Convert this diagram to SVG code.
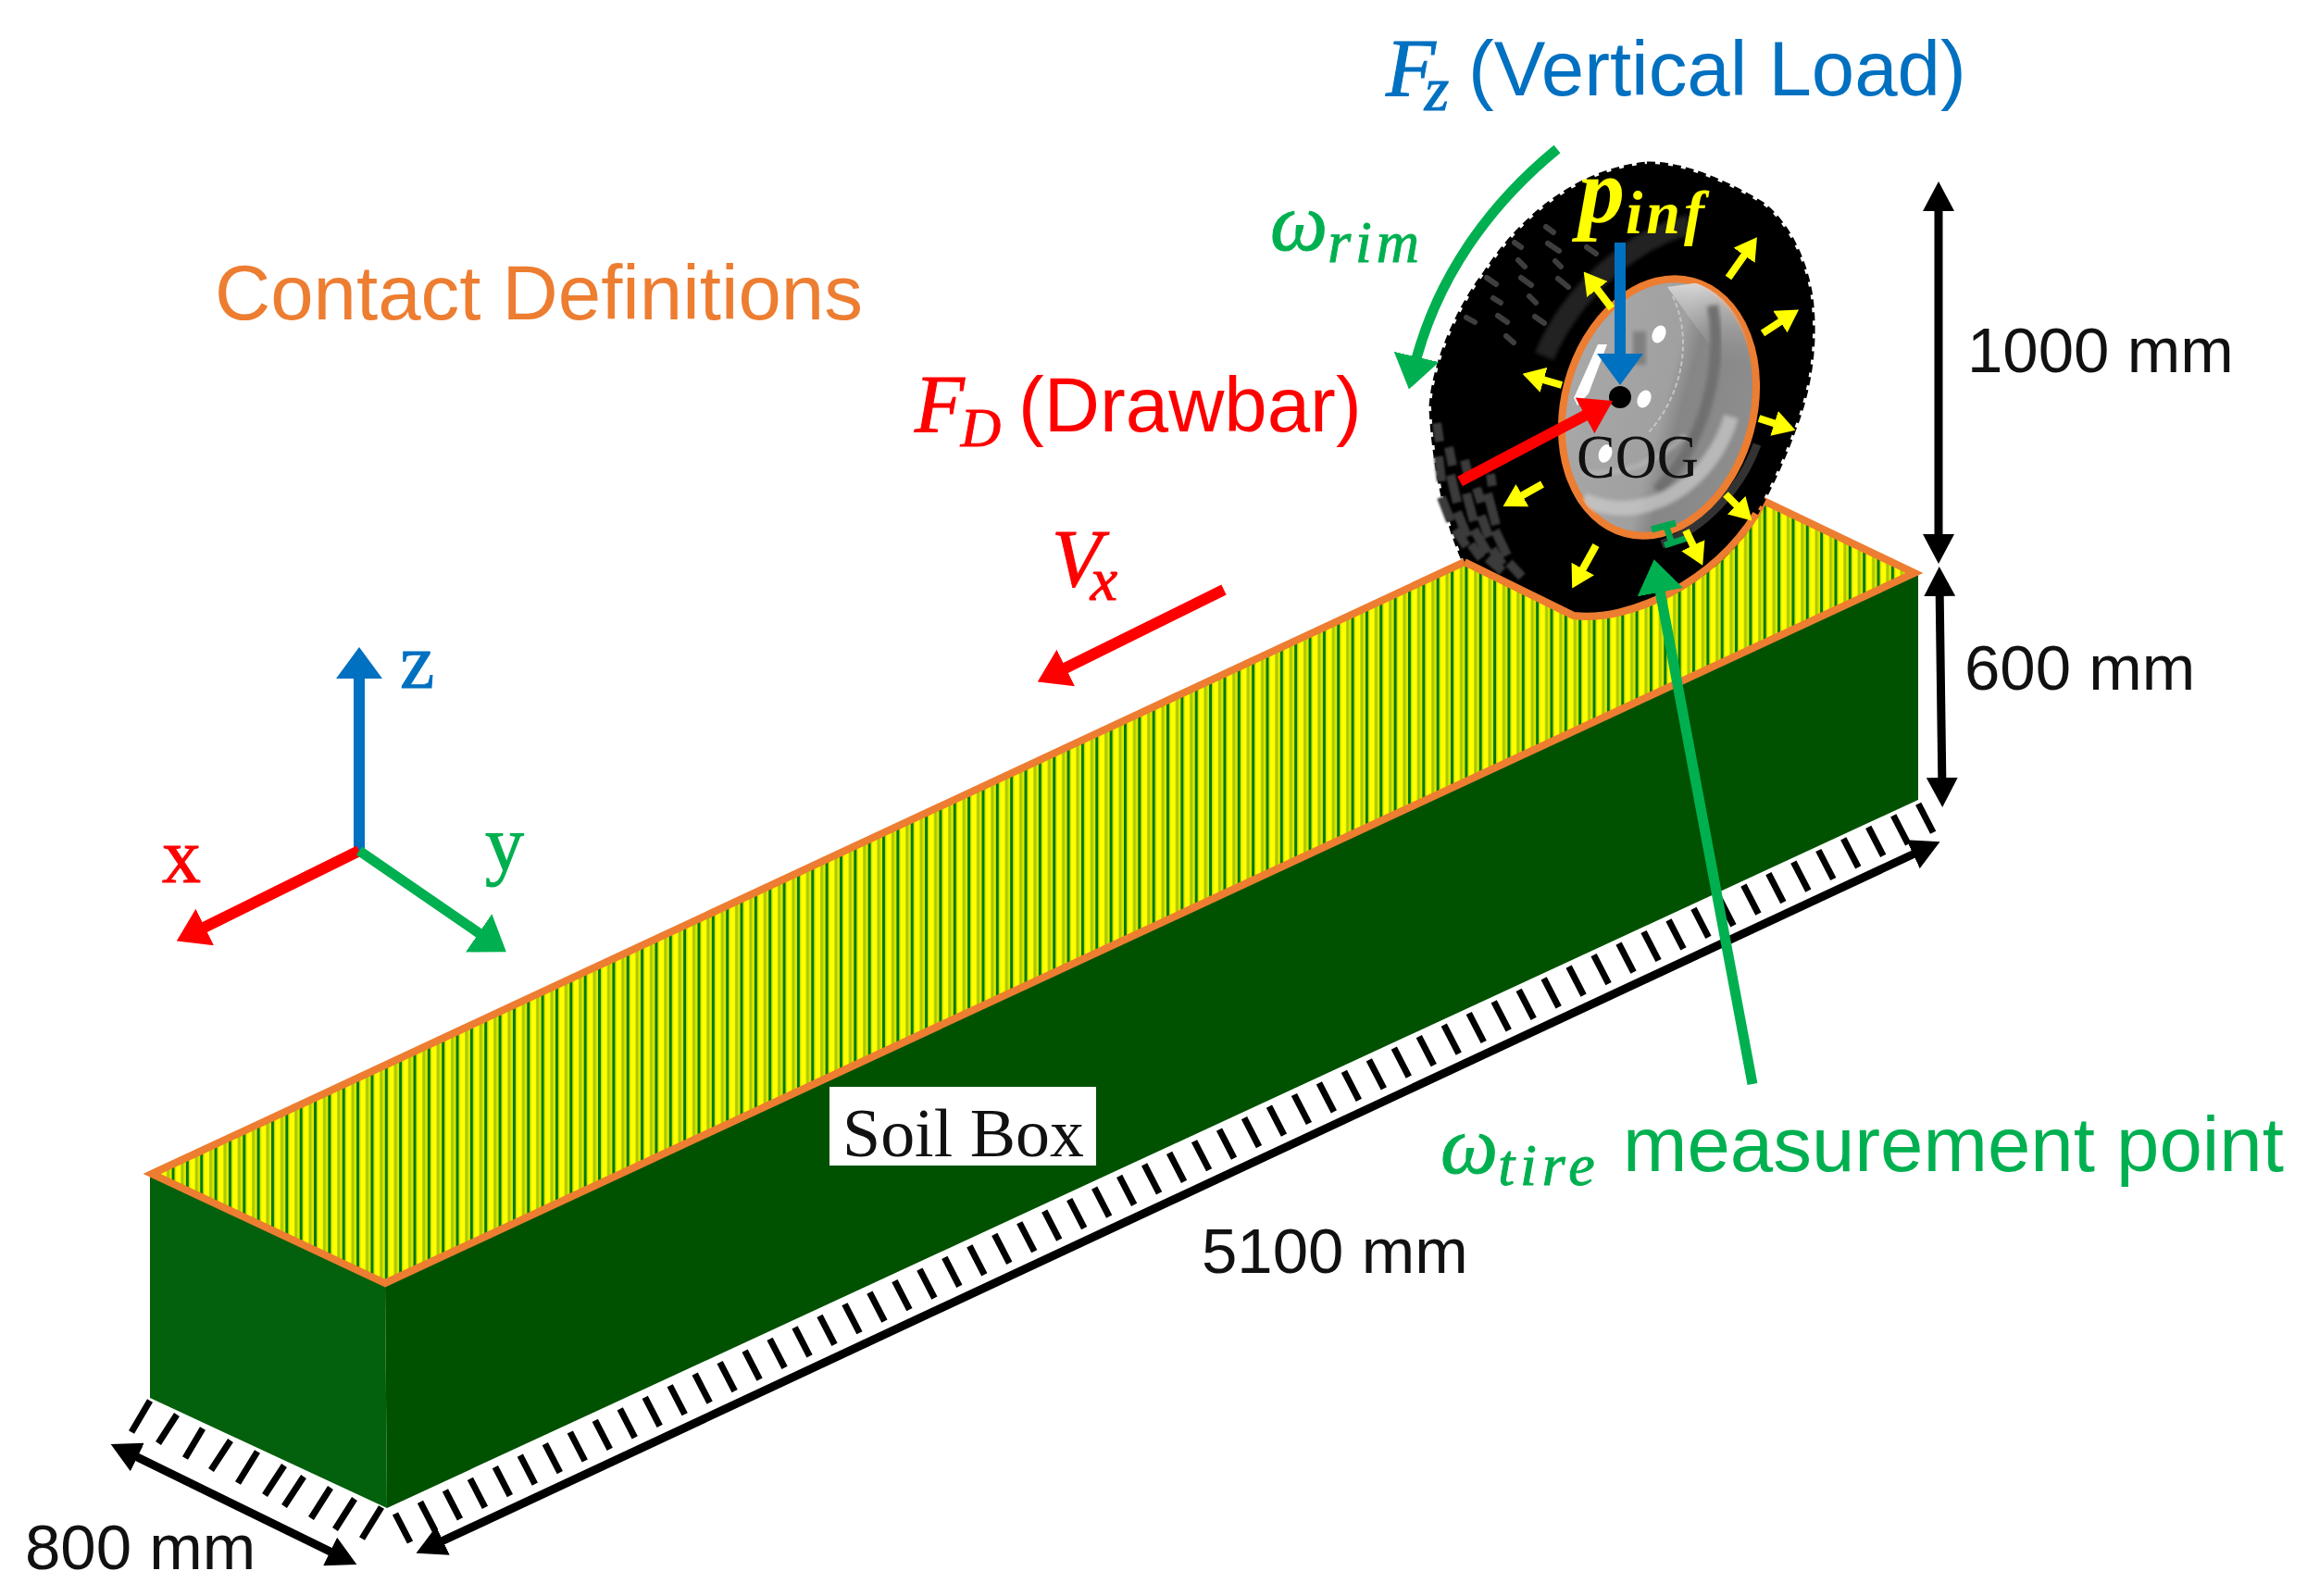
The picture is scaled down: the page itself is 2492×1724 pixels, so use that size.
<svg xmlns="http://www.w3.org/2000/svg" width="2492" height="1724" viewBox="0 0 2492 1724">
<style>
text{font-family:"Liberation Sans",Arial,sans-serif}
.m{font-family:"Liberation Serif","Times New Roman",serif;font-style:italic;stroke-width:1}
.s{font-family:"Liberation Serif","Times New Roman",serif}
.big{font-size:83.4px}
.dim{font-size:69px;fill:#111}
.ln{fill:none;stroke-linecap:butt}
.blk{stroke:#000;stroke-width:9;marker-end:url(#hk);marker-start:url(#hks)}
.yel{stroke:#ff0;stroke-width:8;marker-end:url(#hy)}
.red{stroke:#f00;stroke-width:12;marker-end:url(#hr)}
.grn{stroke:#00b050;stroke-width:11;marker-end:url(#hg)}
.blu{stroke:#0070c0;stroke-width:12;marker-end:url(#hb)}
.tread{stroke:#3a3a3a;stroke-width:10;fill:none}
.dot{stroke:#3e3e3e;stroke-width:6;stroke-linecap:round;fill:none}
</style>
<defs>
<marker id="hk" markerUnits="userSpaceOnUse" viewBox="0 0 10 10" refX="5" refY="5" markerWidth="32" markerHeight="34" orient="auto" preserveAspectRatio="none"><path d="M0 0L10 5L0 10z" fill="#000"/></marker>
<marker id="hks" markerUnits="userSpaceOnUse" viewBox="0 0 10 10" refX="5" refY="5" markerWidth="32" markerHeight="34" orient="auto-start-reverse" preserveAspectRatio="none"><path d="M0 0L10 5L0 10z" fill="#000"/></marker>
<marker id="hy" markerUnits="userSpaceOnUse" viewBox="0 0 10 10" refX="5" refY="5" markerWidth="24" markerHeight="28" orient="auto" preserveAspectRatio="none"><path d="M0 0L10 5L0 10z" fill="#ff0"/></marker>
<marker id="hr" markerUnits="userSpaceOnUse" viewBox="0 0 10 10" refX="5" refY="5" markerWidth="34" markerHeight="44" orient="auto" preserveAspectRatio="none"><path d="M0 0L10 5L0 10z" fill="#f00"/></marker>
<marker id="hg" markerUnits="userSpaceOnUse" viewBox="0 0 10 10" refX="5" refY="5" markerWidth="36" markerHeight="50" orient="auto" preserveAspectRatio="none"><path d="M0 0L10 5L0 10z" fill="#00b050"/></marker>
<marker id="hb" markerUnits="userSpaceOnUse" viewBox="0 0 10 10" refX="5" refY="5" markerWidth="34" markerHeight="50" orient="auto" preserveAspectRatio="none"><path d="M0 0L10 5L0 10z" fill="#0070c0"/></marker>
<pattern id="stripes" patternUnits="userSpaceOnUse" x="907" y="0" width="15.35" height="40">
<rect width="15.35" height="40" fill="#dfe800"/>
<rect x="0" width="3" height="40" fill="#007a00"/>
<rect x="4.6" width="5" height="40" fill="#ffff00"/>
<rect x="10" width="2.8" height="40" fill="#a8c800"/>
</pattern>
<linearGradient id="rimg" x1="0" y1="0" x2="1" y2="0">
<stop offset="0" stop-color="#a8a8a8"/><stop offset=".52" stop-color="#a0a0a0"/><stop offset=".62" stop-color="#868686"/><stop offset="1" stop-color="#8e8e8e"/>
</linearGradient>
<linearGradient id="hl" x1="0" y1="0" x2="0" y2="1">
<stop offset="0" stop-color="#e0e0e0"/><stop offset="1" stop-color="#8a8a8a" stop-opacity="0"/>
</linearGradient>
<filter id="soft" x="-10%" y="-10%" width="120%" height="120%"><feGaussianBlur stdDeviation="2"/></filter>
<filter id="soft1" x="-10%" y="-10%" width="120%" height="120%"><feGaussianBlur stdDeviation="0.8"/></filter>
<clipPath id="rimclip"><ellipse cx="1792" cy="440" rx="100" ry="140" transform="rotate(15 1792 440)"/></clipPath>
</defs>
<rect width="2492" height="1724" fill="#fff"/>

<g id="soil-box">
<polygon points="162,1268 416,1386 418,1629 162,1510" fill="#03600c"/>
<polygon points="416,1386 2072,620 2072,864 418,1629" fill="#005200"/>
<path d="M164,1268L1582,607L1700,665C1760,672 1850,630 1897,555L1905,541L2068,619L416,1386Z" fill="url(#stripes)" stroke="#ed7d31" stroke-width="8" stroke-linejoin="miter"/>
</g>

<g id="tire">
<path id="tire-body" d="M1779,177C1820,176 1870,200 1903,220C1930,240 1950,280 1956,321C1962,370 1955,420 1938,463C1925,500 1910,530 1892,564C1850,630 1760,672 1700,665L1582,607C1560,560 1548,490 1546,440C1548,400 1570,340 1605,294C1640,240 1700,185 1779,177Z" fill="#000" stroke="#000" stroke-width="5" stroke-dasharray="9 5"/>
<path d="M1825,243C1770,255 1700,310 1668,385" fill="none" stroke="#222" stroke-width="22" filter="url(#soft)"/>
<path d="M1898,480C1880,530 1840,570 1795,588" fill="none" stroke="#333" stroke-width="9"/>
<path class="dot" d="M1670,245l8,6M1672,263l12,8M1714,267l10,7M1636,262l7,5M1640,281l7,7M1680,282l6,6M1643,300l11,8M1683,301l11,9M1606,300l10,7M1652,320l7,7M1613,322l8,5M1618,341l10,7M1658,342l10,7M1584,343l9,5M1627,363l8,7"/>
<path class="tread" filter="url(#soft1)" d="M1554,493l3,27M1567,513l7,30M1584,533l8,30M1607,533l9,34M1595,527l5,16M1557,537l10,26M1574,553l11,27M1592,572l15,25M1600,557l8,23M1615,573l13,27M1572,572l12,18M1612,593l11,17M1630,608l14,15M1589,588l11,15M1607,603l16,14M1552,457l3,20M1565,483l4,20M1582,497l5,20M1610,512l2,13"/>
<g id="rim">
<ellipse cx="1792" cy="440" rx="102" ry="141" transform="rotate(15 1792 440)" fill="url(#rimg)" stroke="#ed7d31" stroke-width="8"/>
<g clip-path="url(#rimclip)">
<path d="M1801,310L1872,300L1895,400L1860,385L1845,370L1830,350Z" fill="url(#hl)"/>
<path d="M1807,320C1830,370 1815,430 1780,468" fill="none" stroke="#c4c4c4" stroke-width="2" stroke-dasharray="5 3"/>
<path d="M1850,330C1862,400 1840,480 1790,530" fill="none" stroke="#707070" stroke-width="12" filter="url(#soft)"/>
<path d="M1870,450C1850,520 1780,570 1710,540" fill="none" stroke="#ccc" stroke-width="16" opacity=".7" filter="url(#soft)"/>
<path d="M1710,510C1750,515 1790,500 1820,470" fill="none" stroke="#bbb" stroke-width="5" opacity=".7" filter="url(#soft)"/>
<rect x="1764" y="358" width="14" height="36" fill="#808080" filter="url(#soft)"/>
</g>
<path d="M1736,372L1726,372L1700,430L1704,438L1716,425Z" fill="#fff"/>
<ellipse cx="1792" cy="361" rx="7" ry="10" transform="rotate(25 1792 361)" fill="#fff"/>
<ellipse cx="1776" cy="431" rx="7" ry="10" transform="rotate(25 1776 431)" fill="#fff"/>
<ellipse cx="1734" cy="490" rx="7" ry="10" transform="rotate(20 1734 490)" fill="#fff"/>
</g>
<g id="measurement-mark" fill="none" stroke="#00a550" stroke-width="7">
<path d="M1784,572l26,-7M1800,569l5,15M1798,589l28,-9"/>
</g>
<circle id="cog-dot" cx="1750" cy="429" r="12" fill="#000"/>
<path id="soil-cut-edge" d="M1582,607L1700,665C1760,672 1850,630 1897,555" fill="none" stroke="#ed7d31" stroke-width="8"/>
</g>

<g id="connectors">
<g id="dimension-hatches" fill="none" stroke="#000" stroke-width="7">
<path id="hatch-800" d="M162,1513L142,1547M191,1528L171,1559M219,1543L200,1575M249,1556L228,1588M278,1568L257,1602M307,1583L286,1615M328,1595L307,1627M357,1607L336,1640M383,1619L362,1652M412,1628L391,1662"/>
<path id="hatch-5100" d="M427,1635
l16,31m10.97,-43.57l16,31m10.97,-43.57l16,31m10.97,-43.57l16,31m10.97,-43.57l16,31m10.97,-43.57l16,31m10.97,-43.57l16,31m10.97,-43.57l16,31m10.97,-43.57l16,31m10.97,-43.57l16,31m10.97,-43.57
l16,31m10.97,-43.57l16,31m10.97,-43.57l16,31m10.97,-43.57l16,31m10.97,-43.57l16,31m10.97,-43.57l16,31m10.97,-43.57l16,31m10.97,-43.57l16,31m10.97,-43.57l16,31m10.97,-43.57l16,31m10.97,-43.57
l16,31m10.97,-43.57l16,31m10.97,-43.57l16,31m10.97,-43.57l16,31m10.97,-43.57l16,31m10.97,-43.57l16,31m10.97,-43.57l16,31m10.97,-43.57l16,31m10.97,-43.57l16,31m10.97,-43.57l16,31m10.97,-43.57
l16,31m10.97,-43.57l16,31m10.97,-43.57l16,31m10.97,-43.57l16,31m10.97,-43.57l16,31m10.97,-43.57l16,31m10.97,-43.57l16,31m10.97,-43.57l16,31m10.97,-43.57l16,31m10.97,-43.57l16,31m10.97,-43.57
l16,31m10.97,-43.57l16,31m10.97,-43.57l16,31m10.97,-43.57l16,31m10.97,-43.57l16,31m10.97,-43.57l16,31m10.97,-43.57l16,31m10.97,-43.57l16,31m10.97,-43.57l16,31m10.97,-43.57l16,31m10.97,-43.57
l16,31m10.97,-43.57l16,31m10.97,-43.57l16,31m10.97,-43.57l16,31m10.97,-43.57l16,31m10.97,-43.57l16,31m10.97,-43.57l16,31m10.97,-43.57l16,31m10.97,-43.57l16,31m10.97,-43.57l16,31m10.97,-43.57
l16,31m10.97,-43.57l16,31"/>
</g>
<line class="ln blk" x1="2094" y1="212" x2="2094" y2="593"/>
<line class="ln blk" x1="2095" y1="628" x2="2098" y2="856"/>
<line class="ln blk" x1="464" y1="1671" x2="2081" y2="916"/>
<line class="ln blk" x1="134" y1="1567" x2="371" y2="1683"/>
<line class="ln yel" x1="1867" y1="300" x2="1891" y2="266"/>
<line class="ln yel" x1="1904" y1="360" x2="1933" y2="341"/>
<line class="ln yel" x1="1900" y1="452" x2="1928" y2="461"/>
<line class="ln yel" x1="1864" y1="534" x2="1884" y2="554"/>
<line class="ln yel" x1="1821" y1="573" x2="1834" y2="600"/>
<line class="ln yel" x1="1724" y1="589" x2="1704" y2="625"/>
<line class="ln yel" x1="1666" y1="523" x2="1634" y2="541"/>
<line class="ln yel" x1="1687" y1="416" x2="1656" y2="407"/>
<line class="ln yel" x1="1741" y1="333" x2="1718" y2="303"/>
<line class="ln blu" x1="1750" y1="262" x2="1750" y2="399"/>
<line class="ln red" x1="1577" y1="520" x2="1727" y2="441"/>
<line class="ln red" x1="1322" y1="637" x2="1136" y2="729"/>
<line class="ln grn" x1="1893" y1="1171" x2="1790" y2="622"/>
<path class="ln grn" d="M1682,161C1610,220 1550,300 1526,403"/>
<line class="ln blu" x1="388" y1="919" x2="388" y2="716"/>
<line class="ln red" x1="388" y1="919" x2="206" y2="1009"/>
<line class="ln grn" x1="388" y1="919" x2="532" y2="1018"/>
</g>

<g id="labels">
<text class="big" x="232" y="345" fill="#ed7d31">Contact Definitions</text>
<text class="m" x="1497" y="103" font-size="88" fill="#0070c0" stroke="#0070c0">F<tspan dx="-12" dy="16" font-size="68">z</tspan></text>
<text class="big" x="1586" y="103" fill="#0070c0">(Vertical Load)</text>
<text class="m" x="1372" y="270" font-size="88" fill="#00b050" stroke="#00b050">ω<tspan dy="13" font-size="64" letter-spacing="5">rim</tspan></text>
<text class="m" x="988" y="466" font-size="88" fill="#f00" stroke="#f00">F<tspan dx="-4" dy="16" font-size="60">D</tspan></text>
<text class="big" x="1100" y="466" fill="#f00">(Drawbar)</text>
<text class="m" x="1136" y="633" font-size="88" fill="#f00" stroke="#f00">V<tspan dx="-12" dy="15" font-size="66">x</tspan></text>
<text class="m" x="1705" y="240" font-size="100" font-weight="bold" fill="#ff0">p<tspan dx="1" dy="12" font-size="66" letter-spacing="4">inf</tspan></text>
<text class="s" x="1703" y="516" font-size="68" fill="#111" textLength="132" lengthAdjust="spacingAndGlyphs">COG</text>
<text class="dim" x="2125" y="402">1000 mm</text>
<text class="dim" x="2122" y="745">600 mm</text>
<text class="dim" x="1298" y="1375">5100 mm</text>
<text class="dim" x="27" y="1695">800 mm</text>
<text class="m" x="1556" y="1267" font-size="88" fill="#00b050" stroke="#00b050">ω<tspan dy="13" font-size="64" letter-spacing="6">tire</tspan></text>
<text class="big" x="1753" y="1265" fill="#00b050">measurement point</text>
<text class="s" x="432" y="743" font-size="84" fill="#0070c0" stroke="#0070c0">z</text>
<text class="s" x="175" y="953" font-size="84" fill="#f00" stroke="#f00">x</text>
<text class="s" x="524" y="940" font-size="84" fill="#00b050" stroke="#00b050">y</text>
<g id="soil-box-label">
<rect x="896" y="1174" width="288" height="85" fill="#fff"/>
<text class="s" x="910" y="1249" font-size="73" fill="#111" textLength="261" lengthAdjust="spacingAndGlyphs">Soil Box</text>
</g>
</g>
</svg>
